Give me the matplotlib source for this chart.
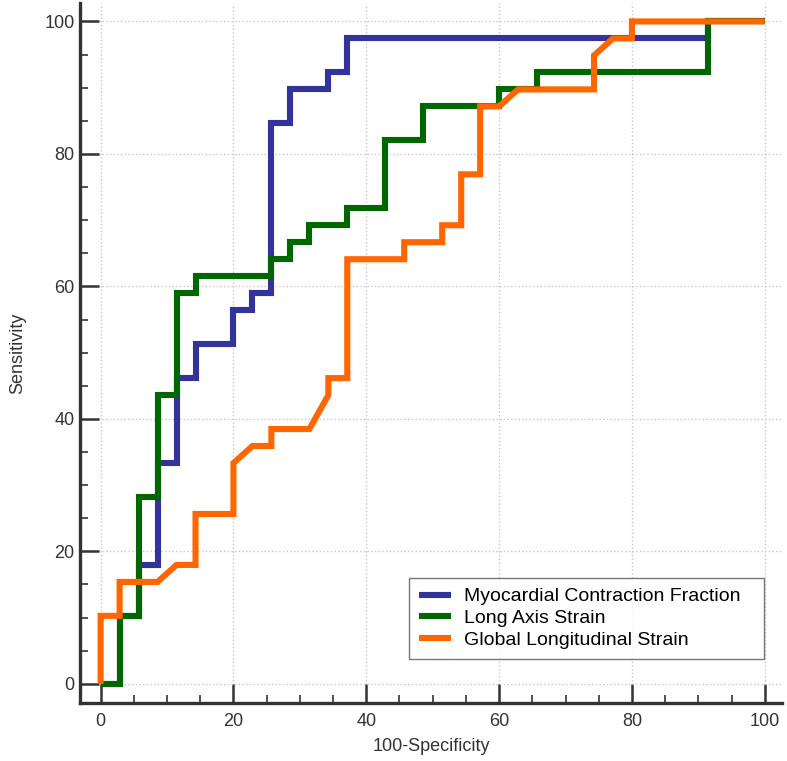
import numpy as np
import matplotlib
matplotlib.use("Agg")
import matplotlib.pyplot as plt
from matplotlib.ticker import MultipleLocator

plt.rcParams['font.family'] = ['Liberation Sans', 'DejaVu Sans']

# ROC curves (100-Specificity, Sensitivity)
mcf_x = [0, 2.86, 2.86, 5.71, 5.71, 8.57, 8.57, 11.43, 11.43, 14.29, 14.29, 20.0, 20.0,
         22.86, 22.86, 25.71, 25.71, 28.57, 28.57, 34.29, 34.29, 37.14, 37.14, 91.43, 91.43, 100]
mcf_y = [0, 0, 10.26, 10.26, 17.95, 17.95, 33.33, 33.33, 46.15, 46.15, 51.28, 51.28, 56.41,
         56.41, 58.97, 58.97, 84.62, 84.62, 89.74, 89.74, 92.31, 92.31, 97.44, 97.44, 100, 100]

las_x = [0, 2.86, 2.86, 5.71, 5.71, 8.57, 8.57, 11.43, 11.43, 14.29, 14.29, 25.71, 25.71,
         28.57, 28.57, 31.43, 31.43, 37.14, 37.14, 42.86, 42.86, 48.57, 48.57, 60.0, 60.0,
         65.71, 65.71, 91.43, 91.43, 100]
las_y = [0, 0, 10.26, 10.26, 28.21, 28.21, 43.59, 43.59, 58.97, 58.97, 61.54, 61.54, 64.10,
         64.10, 66.67, 66.67, 69.23, 69.23, 71.79, 71.79, 82.05, 82.05, 87.18, 87.18, 89.74,
         89.74, 92.31, 92.31, 100, 100]

gls_x = [0, 0, 2.86, 2.86, 8.57, 11.43, 14.29, 14.29, 20.0, 20.0, 22.86, 25.71, 25.71,
         31.43, 34.29, 34.29, 37.14, 37.14, 45.71, 45.71, 51.43, 51.43, 54.29, 54.29,
         57.14, 57.14, 60.0, 62.86, 74.29, 74.29, 77.14, 80.0, 80.0, 100]
gls_y = [0, 10.26, 10.26, 15.38, 15.38, 17.95, 17.95, 25.64, 25.64, 33.33, 35.90, 35.90,
         38.46, 38.46, 43.59, 46.15, 46.15, 64.10, 64.10, 66.67, 66.67, 69.23, 69.23, 76.92,
         76.92, 87.18, 87.18, 89.74, 89.74, 94.87, 97.44, 97.44, 100, 100]

labels = ["Myocardial Contraction Fraction", "Long Axis Strain", "Global Longitudinal Strain"]
colors = ["#333399", "#006600", "#ff6600"]

fig = plt.figure(figsize=(7.87, 7.61), dpi=100)
ax = fig.add_axes([0.1017, 0.0762, 0.892, 0.92])

for xs, ys, lab, col in zip([mcf_x, las_x, gls_x], [mcf_y, las_y, gls_y], labels, colors):
    ax.plot(xs, ys, color=col, lw=4.4, label=lab,
            solid_joinstyle='miter', solid_capstyle='butt')

ax.set_xlim(-3.1, 102.6)
ax.set_ylim(-2.9, 102.8)

ax.xaxis.set_major_locator(MultipleLocator(20))
ax.yaxis.set_major_locator(MultipleLocator(20))
ax.xaxis.set_minor_locator(MultipleLocator(5))
ax.yaxis.set_minor_locator(MultipleLocator(5))

ax.grid(True, which='major', color='#c8c8c8', linestyle=':', linewidth=1.0)
ax.set_axisbelow(True)

for s in ['top', 'right']:
    ax.spines[s].set_visible(False)
for s in ['left', 'bottom']:
    ax.spines[s].set_linewidth(2.4)
    ax.spines[s].set_color('#333333')

ax.tick_params(which='major', direction='in', length=13.5, width=1.8, color='#333333',
               labelsize=13, labelcolor='#333333')
ax.tick_params(which='minor', direction='in', length=6, width=1.2, color='#333333')
ax.tick_params(axis='x', which='major', pad=7)
ax.tick_params(axis='y', which='major', pad=4)

ax.set_xlabel("100-Specificity", fontsize=13, color='#333333', labelpad=6)
ax.set_ylabel("Sensitivity", fontsize=13, color='#333333', labelpad=13)

# legend box stretched to the width it has in the picture
leg = ax.legend(loc='lower left', bbox_to_anchor=(0.4687, 0.063, 0.5057, 0.1),
                mode='expand', borderaxespad=0,
                fontsize=14, frameon=True, fancybox=False, handlelength=1.65,
                handletextpad=0.7, labelspacing=0.22, borderpad=0.5)
leg.get_frame().set_edgecolor('#555555')
leg.get_frame().set_linewidth(1.0)

fig.savefig("out.png", dpi=100)
